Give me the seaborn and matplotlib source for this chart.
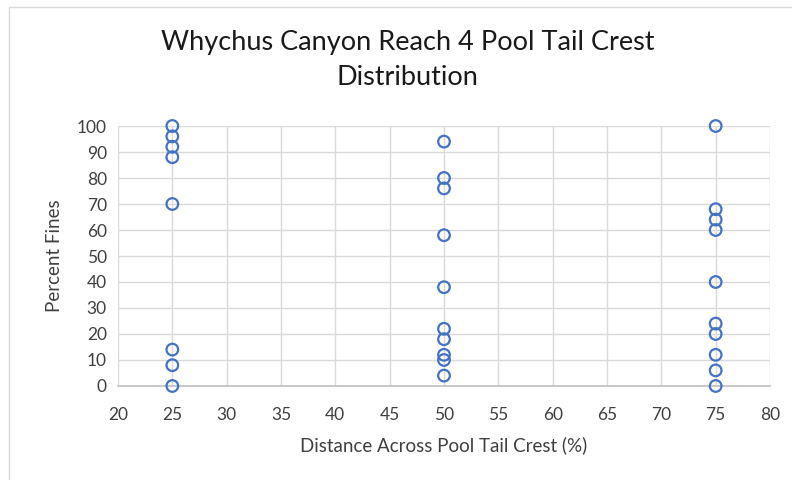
import matplotlib
matplotlib.use("Agg")
import matplotlib.pyplot as plt
import seaborn as sns
import pandas as pd
from matplotlib.patches import Rectangle

# data
x_25 = [25] * 8
y_25 = [100, 96, 92, 88, 70, 14, 8, 0]
x_50 = [50] * 10
y_50 = [94, 80, 76, 58, 38, 22, 18, 12, 10, 4]
x_75 = [75] * 10
y_75 = [100, 68, 64, 60, 40, 24, 20, 12, 6, 0]

df = pd.DataFrame({
    "Distance": x_25 + x_50 + x_75,
    "Fines": y_25 + y_50 + y_75,
})

sns.set_style("white")
plt.rcParams["font.family"] = ["Lato", "DejaVu Sans"]

fig = plt.figure(figsize=(7.92, 4.8), dpi=100)
fig.patches.append(Rectangle((9 / 792, -0.1), 1.1, 1 - 7 / 480 + 0.1,
                             transform=fig.transFigure, fill=False,
                             edgecolor="#d9d9d9", linewidth=1))

ax = fig.add_axes([118 / 792, 1 - 386 / 480, 652 / 792, 260 / 480])
sns.scatterplot(data=df, x="Distance", y="Fines", ax=ax,
                marker="o", s=70, facecolor="none",
                edgecolor="#4472C4", linewidth=1.6, zorder=3, clip_on=False)

ax.set_xlim(20, 80)
ax.set_ylim(0, 100)
ax.set_xticks(range(20, 81, 5))
ax.set_yticks(range(0, 101, 10))
ax.grid(True, color="#d9d9d9", linewidth=1)
ax.set_axisbelow(True)
for side in ["top", "right", "left"]:
    ax.spines[side].set_visible(False)
ax.spines["bottom"].set_color("#bfbfbf")
ax.spines["bottom"].set_linewidth(1.2)
ax.tick_params(length=0, labelsize=12.5, colors="#404040")
ax.tick_params(axis="x", pad=15)
ax.tick_params(axis="y", pad=8)

ax.set_xlabel("Distance Across Pool Tail Crest (%)", fontsize=13.5,
              color="#404040", labelpad=10)
ax.set_ylabel("Percent Fines", fontsize=13.5, color="#404040", labelpad=10)
fig.text(0.515, 0.874, "Whychus Canyon Reach 4 Pool Tail Crest\nDistribution",
         ha="center", va="center", fontsize=19.5, color="#1a1a1a",
         linespacing=1.5)

fig.savefig("out.png", dpi=100)
